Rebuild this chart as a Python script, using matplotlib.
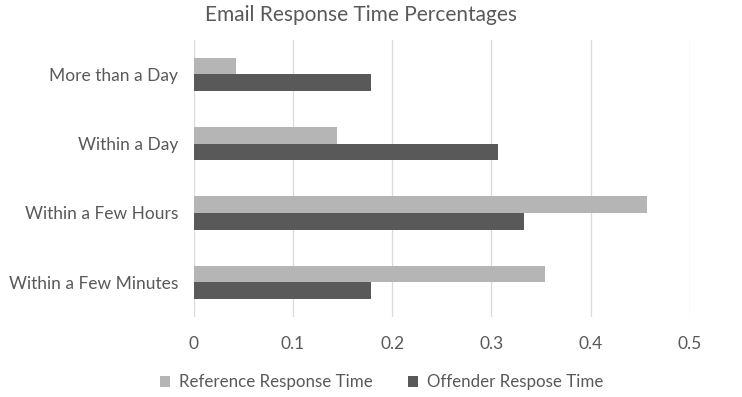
import numpy as np
import matplotlib.pyplot as plt

# categories bottom -> top
categories = ['Within a Few Minutes', 'Within a Few Hours', 'Within a Day', 'More than a Day']
reference_time = [0.354, 0.457, 0.145, 0.043]
offender_time = [0.179, 0.333, 0.307, 0.179]
xticks = [0, 0.1, 0.2, 0.3, 0.4, 0.5]
xticklabels = ['0', '0.1', '0.2', '0.3', '0.4', '0.5']

light = '#b5b5b5'
dark = '#595959'
txt = '#595959'

plt.rcParams['font.family'] = ['Lato', 'DejaVu Sans']

fig = plt.figure(figsize=(7.42, 3.97), dpi=100)
ax = fig.add_axes([0.2608, 0.2015, 0.669, 0.699])

y = np.arange(len(categories))
h = 0.24
ax.barh(y + h / 2, reference_time, height=h, color=light, label='Reference Response Time', zorder=3)
ax.barh(y - h / 2, offender_time, height=h, color=dark, label='Offender Respose Time', zorder=3)

ax.set_xlim(0, 0.5)
ax.set_ylim(-0.5, 3.5)
ax.set_xticks(xticks)
ax.set_xticklabels(xticklabels)
ax.set_yticks(y)
ax.set_yticklabels(categories)
ax.tick_params(axis='x', length=0, pad=14, labelsize=12.5, labelcolor=txt)
ax.tick_params(axis='y', length=0, pad=11, labelsize=12.5, labelcolor=txt)
ax.grid(axis='x', color='#d9d9d9', linewidth=0.9, zorder=0)
for s in ax.spines.values():
    s.set_visible(False)

fig.text(0.487, 0.962, 'Email Response Time Percentages', ha='center', va='center',
         fontsize=15, color=txt)

fig.legend(loc='center', bbox_to_anchor=(0.514, 0.037), ncol=2, frameon=False,
           fontsize=12.2, labelcolor=txt, handlelength=0.6, handleheight=0.6,
           handletextpad=0.5, columnspacing=2.1)

fig.savefig('out.png', dpi=100)
